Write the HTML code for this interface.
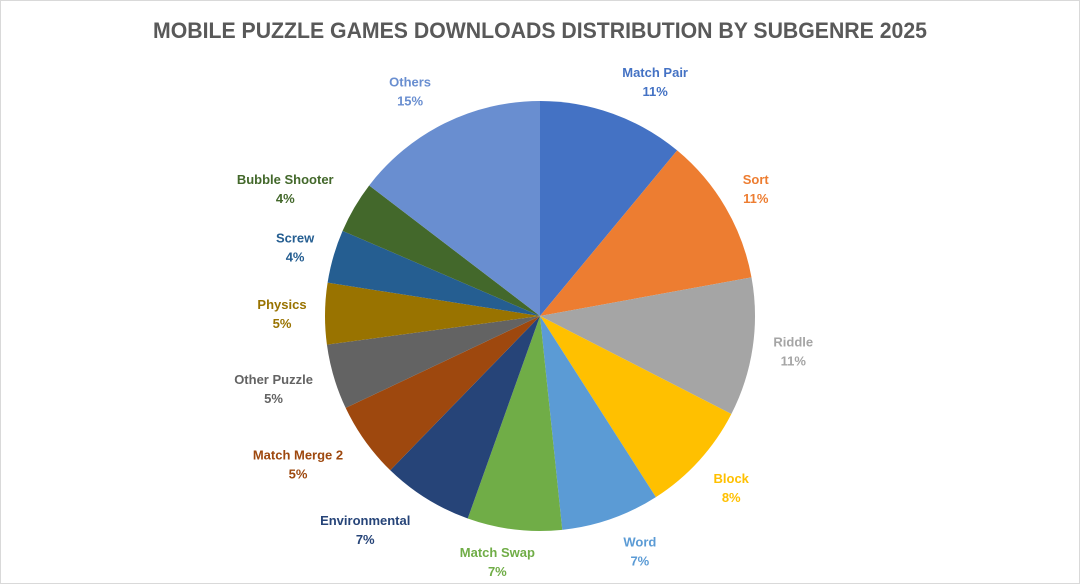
<!DOCTYPE html>
<html><head><meta charset="utf-8"><style>
body{margin:0;background:#fff;}
svg{display:block;font-family:"Liberation Sans",sans-serif;}
</style></head><body>
<svg id="chart" width="1080" height="584" viewBox="0 0 1080 584">
<rect x="0.5" y="0.5" width="1079" height="583" fill="#fff" stroke="#d9d9d9"/>
<text x="540" y="38" text-anchor="middle" font-size="22" font-weight="bold" fill="#595959" textLength="774" lengthAdjust="spacingAndGlyphs">MOBILE PUZZLE GAMES DOWNLOADS DISTRIBUTION BY SUBGENRE 2025</text>
<g id="slices"></g><g id="labels"></g>
</svg>
<script>
const categories=["Match Pair","Sort","Riddle","Block","Word","Match Swap","Environmental","Match Merge 2","Other Puzzle","Physics","Screw","Bubble Shooter","Others"];
const values=[11.0,11.1,10.4,8.4,7.4,7.1,6.8,5.7,4.9,4.6,4.0,3.9,14.6];
const printed=["11%","11%","11%","8%","7%","7%","7%","5%","5%","5%","4%","4%","15%"];
const colors=["#4472C4","#ED7D31","#A5A5A5","#FFC000","#5B9BD5","#70AD47","#264478","#9E480E","#636363","#997300","#255E91","#43682B","#698ED0"];
// layout-only label nudges (best-fit placement)
const nudgeX=[28,-6,-1,1,15,-12,-39,-33,-20,-1,2,-33,-16];
const nudgeY=[6,1,-4,-3,-9,-11,-6,-3,-2,-1,1,1,4];
const cx=540,cy=316,r=215,ns="http://www.w3.org/2000/svg";
const total=values.reduce((a,b)=>a+b,0);
const gS=document.getElementById('slices'),gL=document.getElementById('labels');
function pt(a,rad){return [cx+rad*Math.sin(a),cy-rad*Math.cos(a)];}
let acc=0;
values.forEach((v,i)=>{
  const a0=acc/total*2*Math.PI; acc+=v; const a1=acc/total*2*Math.PI;
  const p0=pt(a0,r),p1=pt(a1,r),large=(a1-a0)>Math.PI?1:0;
  const p=document.createElementNS(ns,'path');
  p.setAttribute('d',`M${cx},${cy}L${p0[0]},${p0[1]}A${r},${r} 0 ${large} 1 ${p1[0]},${p1[1]}Z`);
  p.setAttribute('fill',colors[i]);
  
  
  gS.appendChild(p);
  const am=(a0+a1)/2,lp=pt(am,r+42);
  const x=lp[0]+nudgeX[i],y=lp[1]-3+nudgeY[i];
  const t=document.createElementNS(ns,'text');
  t.setAttribute('x',x);t.setAttribute('y',y);
  t.setAttribute('text-anchor','middle');t.setAttribute('font-size','13');t.setAttribute('font-weight','bold');
  t.setAttribute('fill',colors[i]);
  
  
  const s1=document.createElementNS(ns,'tspan');s1.setAttribute('x',x);s1.textContent=categories[i];
  const s2=document.createElementNS(ns,'tspan');s2.setAttribute('x',x);s2.setAttribute('dy','19');s2.textContent=printed[i];
  t.appendChild(s1);t.appendChild(s2);gL.appendChild(t);
});
</script>
</body></html>
